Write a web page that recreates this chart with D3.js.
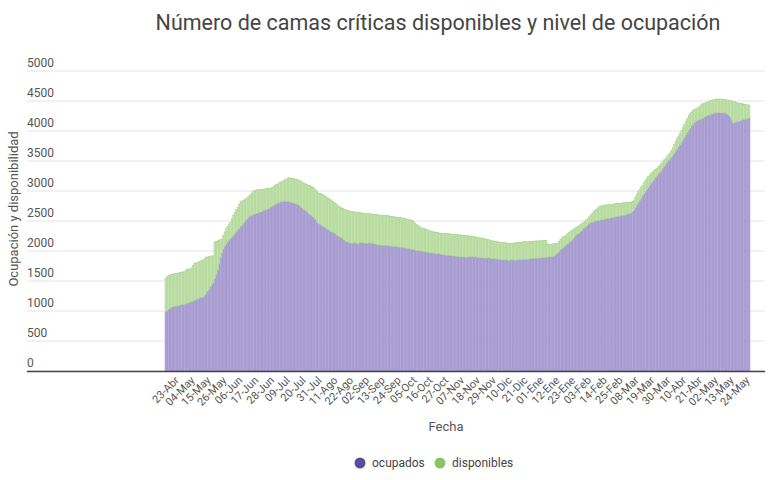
<!DOCTYPE html>
<html><head><meta charset="utf-8">
<script src="https://cdn.jsdelivr.net/npm/d3@7"></script>
<style>body{margin:0;background:#fff;font-family:Roboto,"Noto Sans",sans-serif}</style>
</head><body><svg id="c" width="770" height="480"></svg>
<script>
const startDate = "2020-04-14";
const monthNames = ["Ene","Feb","Mar","Abr","May","Jun","Jul","Ago","Sep","Oct","Nov","Dic"];
const yTicks = [0,500,1000,1500,2000,2500,3000,3500,4000,4500,5000];
const seriesNames = ["ocupados","disponibles"];
const seriesColors = ["#5b4a9e","#88c566"];
const barColors = ["#b5abd8","#c7e4b3"];
const barStrokes = ["#9a8ec9","#a9d38f"];
// ocupados (daily)
const ocupados = [
980,1000,1020,1040,1060,1070,1080,1075,1085,1090,1095,
1100,1105,1110,1120,1130,1140,1145,1150,1160,1170,1185,1200,
1210,1220,1225,1230,1260,1290,1320,1360,1400,1440,1470,
1540,1610,1680,1780,1880,1970,2030,2080,2120,2150,2180,
2200,2230,2260,2290,2320,2350,2375,2400,2430,2460,2490,
2520,2545,2570,2580,2595,2610,2615,2620,2635,2645,2650,2660,
2670,2680,2690,2700,2715,2730,2745,2760,2770,2785,2800,
2810,2820,2825,2830,2825,2820,2820,2815,2810,2800,2795,
2790,2780,2770,2750,2730,2710,2690,2670,2650,2630,2610,
2590,2570,2550,2520,2490,2460,2445,2430,2410,2400,2380,2365,
2350,2335,2320,2310,2300,2280,2260,2245,2230,2220,2200,
2180,2160,2150,2140,2130,2125,2130,2135,2130,2125,2130,
2135,2140,2135,2130,2125,2130,2135,2130,2130,2120,2115,
2110,2105,2100,2100,2095,2090,2090,2090,2090,2085,2080,2080,
2075,2075,2070,2065,2065,2060,2060,2055,2050,2045,2040,
2035,2030,2025,2020,2015,2010,2005,2000,2000,1995,1990,
1985,1980,1975,1970,1970,1965,1965,1960,1960,1955,1950,
1945,1940,1935,1930,1925,1925,1920,1920,1915,1920,1915,1910,
1910,1905,1900,1905,1900,1900,1895,1900,1905,1900,1900,
1895,1900,1895,1890,1890,1885,1885,1880,1880,1885,1880,
1880,1875,1870,1870,1865,1865,1860,1860,1855,1855,1850,
1850,1850,1845,1845,1850,1850,1850,1845,1850,1855,1855,1860,
1860,1860,1865,1860,1865,1870,1870,1875,1875,1880,1880,
1885,1880,1885,1890,1890,1895,1895,1900,1905,1905,1910,
1925,1945,1965,1990,2015,2040,2060,2080,2100,2120,2135,
2150,2180,2210,2240,2270,2282,2295,2320,2345,2370,2395,2415,
2435,2455,2470,2480,2490,2495,2500,2505,2510,2517,
2520,2525,2530,2535,2540,2545,2550,2555,2560,2565,
2570,2575,2580,2585,2590,2595,2600,2610,2620,2625,
2633,2655,2680,2720,2760,2800,2840,2880,2920,2955,
2990,3025,3060,3095,3130,3160,3190,3220,3250,3280,
3310,3345,3380,3410,3440,3470,3500,3530,3560,3595,
3630,3665,3700,3735,3770,3810,3850,3890,3930,3970,
4010,4045,4080,4110,4135,4155,4170,4185,4195,4205,
4215,4230,4240,4250,4260,4270,4280,4290,4300,4300,
4305,4305,4300,4300,4300,4300,4290,4275,4255,4217,
4175,4133,4140,4150,4155,4160,4167,4175,4185,4195,
4200,4210,4217];
// total de camas (ocupados + disponibles), daily
const camasTotales = [
1550,1570,1590,1600,1610,1620,1620,1625,1630,1635,1640,
1650,1650,1660,1680,1700,1700,1700,1720,1760,1800,1800,1810,
1820,1830,1850,1850,1870,1900,1900,1910,1915,1920,1920,
2150,2160,2170,2180,2190,2200,2260,2320,2380,2410,2450,
2480,2540,2600,2650,2690,2730,2780,2820,2830,2850,2860,
2880,2900,2920,2950,2970,3000,3010,3020,3020,3025,3030,3030,
3030,3035,3040,3040,3045,3050,3060,3080,3100,3110,3120,
3140,3150,3160,3175,3190,3200,3220,3220,3215,3210,3205,
3200,3195,3185,3175,3160,3145,3130,3120,3110,3100,3090,
3080,3070,3050,3020,3000,2970,2962,2955,2940,2925,2910,2890,
2875,2860,2850,2830,2810,2790,2770,2750,2735,2720,2710,
2700,2690,2680,2670,2665,2660,2655,2650,2650,2645,2640,
2640,2635,2630,2630,2625,2625,2620,2620,2620,2615,2610,
2610,2605,2600,2600,2595,2595,2595,2590,2590,2585,2580,2580,
2575,2570,2565,2560,2560,2555,2550,2545,2540,2535,2530,
2525,2520,2510,2490,2470,2450,2430,2410,2395,2385,2380,
2370,2360,2350,2340,2330,2325,2320,2315,2310,2305,2300,
2300,2295,2295,2290,2290,2290,2285,2285,2280,2280,2275,2275,
2270,2270,2265,2265,2260,2260,2255,2255,2250,2250,2245,
2240,2235,2230,2225,2220,2215,2210,2205,2200,2195,2190,
2180,2175,2170,2165,2160,2155,2150,2150,2145,2140,2140,
2135,2135,2130,2130,2130,2130,2135,2140,2140,2145,2150,2150,
2150,2155,2155,2150,2155,2160,2160,2165,2165,2170,2170,
2170,2170,2175,2180,2180,2180,2120,2110,2110,2115,2120,
2125,2130,2130,2160,2190,2220,2240,2250,2270,2290,2310,
2330,2350,2365,2380,2400,2410,2420,2440,2460,2480,2500,2520,
2545,2570,2600,2630,2655,2680,2700,2720,2740,2750,
2755,2760,2765,2770,2770,2775,2770,2780,2785,2790,
2790,2795,2795,2800,2800,2805,2805,2810,2812,2815,
2817,2830,2850,2900,2950,2990,3030,3067,3100,3140,
3175,3210,3240,3270,3300,3320,3340,3360,3380,3405,
3433,3460,3490,3520,3550,3580,3610,3633,3680,3730,
3780,3830,3880,3920,3967,4010,4060,4110,4160,4210,
4260,4300,4320,4340,4355,4370,4383,4400,4420,4440,
4455,4465,4475,4483,4495,4505,4515,4520,4528,4533,
4533,4535,4535,4530,4530,4525,4520,4517,4510,4505,
4500,4495,4490,4480,4470,4467,4460,4455,4450,4445,
4440,4435,4433];
const tickEvery = 11;

const svg = d3.select("#c");
const t0 = d3.timeParse("%Y-%m-%d")(startDate);
const N = ocupados.length;
const dates = ocupados.map((_, i) => d3.timeDay.offset(t0, i));
const fmt = d => d3.timeFormat("%d")(d) + "-" + monthNames[d.getMonth()];
const data = dates.map((d, i) => ({date: d, ocupados: ocupados[i], disponibles: camasTotales[i] - ocupados[i]}));

const x = d3.scaleBand().domain(dates).range([165, 750]).padding(0);
const y = d3.scaleLinear().domain([0, 5000]).range([371, 71]);

// gridlines and y labels
const gy = svg.append("g");
gy.selectAll("line").data(yTicks).join("line")
  .attr("x1", 27).attr("x2", 765).attr("y1", d => y(d)).attr("y2", d => y(d))
  .attr("stroke", "#e4e4e4").attr("stroke-width", 1);
gy.selectAll("text").data(yTicks).join("text")
  .attr("x", 27).attr("y", d => y(d) - 4)
  .attr("font-size", 12).attr("fill", "#555").text(d => d);

const stack = d3.stack().keys(seriesNames)(data);
stack.forEach((s, k) => {
  svg.append("g").selectAll("rect").data(s).join("rect")
    .attr("x", d => x(d.data.date))
    .attr("width", x.bandwidth())
    .attr("y", d => y(d[1]))
    .attr("height", d => y(d[0]) - y(d[1]))
    .attr("fill", barColors[k])
    .attr("stroke", barStrokes[k])
    .attr("stroke-width", 0.5);
});

// x axis
svg.append("line").attr("x1", 27).attr("x2", 765).attr("y1", 371.5).attr("y2", 371.5)
  .attr("stroke", "#444").attr("stroke-width", 1.5);
const tickDates = dates.filter((d, i) => (N - 1 - i) % tickEvery === 0);
svg.append("g").selectAll("text").data(tickDates).join("text")
  .attr("transform", d => `translate(${x(d) + x.bandwidth()/2 + 1},${381}) rotate(-45)`)
  .attr("text-anchor", "end").attr("font-size", 11).attr("fill", "#555")
  .text(fmt);

// axis titles
svg.append("text").attr("x", 446).attr("y", 431).attr("text-anchor", "middle")
  .attr("font-size", 13).attr("fill", "#555").text("Fecha");
svg.append("text").attr("transform", "translate(18,209) rotate(-90)")
  .attr("text-anchor", "middle").attr("font-size", 13).attr("fill", "#555")
  .text("Ocupación y disponibilidad");

// title
svg.append("text").attr("x", 438).attr("y", 30).attr("text-anchor", "middle")
  .attr("font-size", 21.5).attr("font-weight", 400).attr("fill", "#454545")
  .text("Número de camas críticas disponibles y nivel de ocupación");

// legend
const leg = svg.append("g");
const legX = [360, 440];
seriesNames.forEach((n, k) => {
  leg.append("circle").attr("cx", legX[k]).attr("cy", 463).attr("r", 5.5).attr("fill", seriesColors[k]);
  leg.append("text").attr("x", legX[k] + 12).attr("y", 467).attr("font-size", 12).attr("fill", "#444").text(n);
});
</script></body></html>
